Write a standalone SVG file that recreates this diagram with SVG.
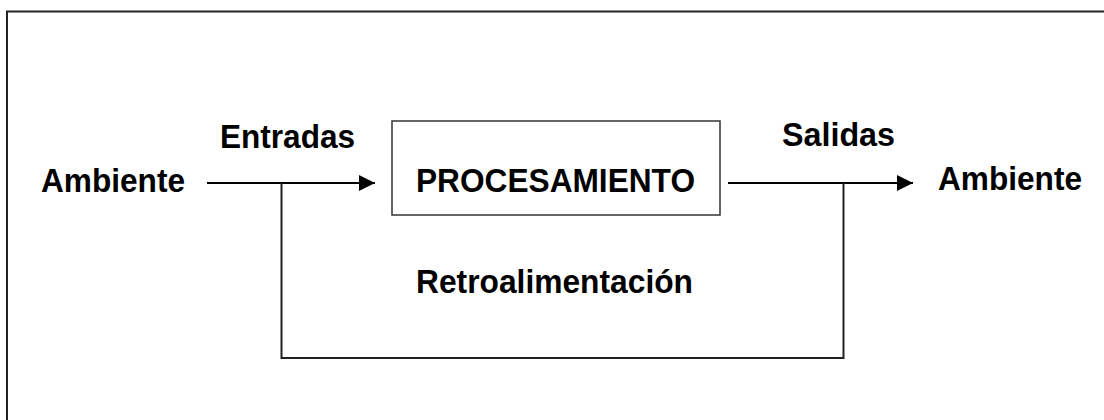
<svg xmlns="http://www.w3.org/2000/svg" width="1104" height="420" viewBox="0 0 1104 420">
<style>
.t{font-family:"Liberation Sans",Arial,sans-serif;font-weight:bold;font-size:34px;fill:#000}
.ln{stroke:#000;stroke-width:2.2;fill:none}
.fb{stroke:#222;stroke-width:2;fill:none}
</style>
<defs>
<marker id="ah" viewBox="0 0 16 16" refX="16" refY="8" markerWidth="16" markerHeight="16" markerUnits="userSpaceOnUse" orient="auto">
<path d="M0,0 L16,8 L0,16 Z" fill="#000"/>
</marker>
</defs>
<rect width="1104" height="420" fill="#fff"/>
<g id="frame"><path d="M7,420 V11.5 H1104" stroke="#222" stroke-width="2" fill="none"/></g>
<g id="connectors">
<line class="ln" x1="207" y1="183" x2="375" y2="183" marker-end="url(#ah)"/>
<line class="ln" x1="728" y1="183" x2="913" y2="183" marker-end="url(#ah)"/>
<path class="fb" d="M281.5,183 V358 H843.5 V183"/>
</g>
<g id="proc">
<rect x="392" y="121" width="328" height="94" fill="#fff" stroke="#333" stroke-width="1.5"/>
<text class="t" x="416" y="192" textLength="279" lengthAdjust="spacingAndGlyphs">PROCESAMIENTO</text>
</g>
<g id="amb-in"><text class="t" x="41" y="192" textLength="144" lengthAdjust="spacingAndGlyphs">Ambiente</text></g>
<g id="entradas"><text class="t" x="220" y="148" textLength="135" lengthAdjust="spacingAndGlyphs">Entradas</text></g>
<g id="salidas"><text class="t" x="782" y="146" textLength="113" lengthAdjust="spacingAndGlyphs">Salidas</text></g>
<g id="amb-out"><text class="t" x="938" y="190" textLength="144" lengthAdjust="spacingAndGlyphs">Ambiente</text></g>
<g id="retro"><text class="t" x="416" y="293" textLength="277" lengthAdjust="spacingAndGlyphs">Retroalimentación</text></g>
</svg>
